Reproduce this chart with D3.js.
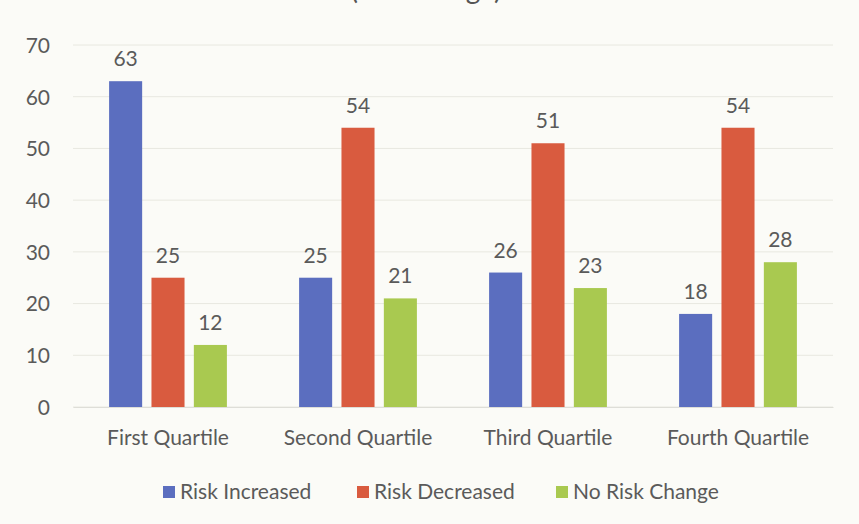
<!DOCTYPE html>
<html><head><meta charset="utf-8">
<script src="https://cdn.jsdelivr.net/npm/d3@7"></script>
<style>body{margin:0;background:#fbfbf7;}svg{display:block;}</style>
</head><body>
<script>
const categories = ["First Quartile","Second Quartile","Third Quartile","Fourth Quartile"];
const seriesNames = ["Risk Increased","Risk Decreased","No Risk Change"];
const riskIncreased = [63,25,26,18];
const riskDecreased = [25,54,51,54];
const noRiskChange = [12,21,23,28];
const yTicks = [0,10,20,30,40,50,60,70];
const title = "(Percentage)";
const colors = ["#5b6ebf","#d95b3f","#a9c950"];

const W=859,H=524;
const margin={left:73,right:26,top:45,bottom:117};
const svg=d3.select("body").append("svg").attr("width",W).attr("height",H);
svg.append("rect").attr("width",W).attr("height",H).attr("fill","#fbfbf7");
const font="Lato, 'Open Sans', sans-serif";
const txt="#5a5a5a";
const fs=21;

svg.append("text").attr("x",426).attr("y",-1).attr("text-anchor","middle")
  .attr("font-family",font).attr("font-size",28).attr("fill","#555").text(title);

const x=d3.scaleBand().domain(categories).range([margin.left,W-margin.right]).paddingInner(0.38).paddingOuter(0.19);
const y=d3.scaleLinear().domain([0,70]).range([H-margin.bottom,margin.top]);
const xs=d3.scaleBand().domain(seriesNames).range([0,x.bandwidth()]).paddingInner(0.22);

const data=[riskIncreased,riskDecreased,noRiskChange];

// grid
svg.append("g").selectAll("line").data(yTicks).join("line")
  .attr("x1",margin.left).attr("x2",W-margin.right)
  .attr("y1",d=>y(d)).attr("y2",d=>y(d))
  .attr("stroke","#e8e8e0").attr("stroke-width",1);

const yAxis=svg.append("g").attr("transform",`translate(${margin.left-23},0)`)
  .call(d3.axisLeft(y).tickValues(yTicks).tickSize(0).tickPadding(0));
yAxis.select(".domain").remove();
yAxis.selectAll("text").attr("font-family",font).attr("font-size",fs).attr("fill",txt).attr("dy","0.35em");

const xAxis=svg.append("g").attr("transform",`translate(0,${H-margin.bottom})`)
  .call(d3.axisBottom(x).tickSize(0).tickPadding(23));
xAxis.select(".domain").attr("stroke","#deded8");
xAxis.selectAll("text").attr("font-family",font).attr("font-size",fs).attr("fill",txt);

seriesNames.forEach((s,si)=>{
  const g=svg.append("g");
  g.selectAll("rect").data(data[si]).join("rect")
    .attr("x",(d,i)=>x(categories[i])+xs(s))
    .attr("width",xs.bandwidth())
    .attr("y",d=>y(d)).attr("height",d=>y(0)-y(d))
    .attr("fill",colors[si]);
  g.selectAll("text").data(data[si]).join("text")
    .attr("x",(d,i)=>x(categories[i])+xs(s)+xs.bandwidth()/2)
    .attr("y",d=>y(d)-15).attr("text-anchor","middle")
    .attr("font-family",font).attr("font-size",fs).attr("fill",txt).text(d=>d);
});

// legend
const leg=svg.append("g").attr("transform","translate(0,492)");
const legX=[163,357,556];
seriesNames.forEach((s,i)=>{
  leg.append("rect").attr("x",legX[i]).attr("y",-6).attr("width",12).attr("height",12).attr("fill",colors[i]);
  leg.append("text").attr("x",legX[i]+17).attr("y",0).attr("dy","0.35em")
    .attr("font-family",font).attr("font-size",fs).attr("fill",txt).text(s);
});
</script>
</body></html>
